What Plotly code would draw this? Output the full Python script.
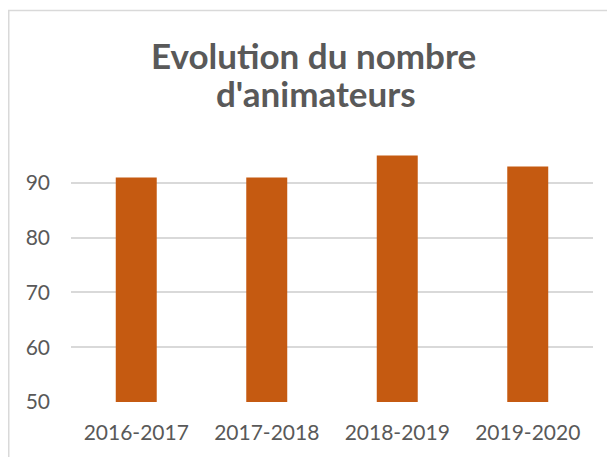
import plotly.graph_objects as go

categories = ["2016-2017", "2017-2018", "2018-2019", "2019-2020"]
values = [91, 91, 95, 93]
y_ticks = [50, 60, 70, 80, 90]
title_lines = ["Evolution du nombre", "d'animateurs"]

W, H = 615, 457
ML, MR, MT, MB = 63, 30, 142, 63
pw = W - ML - MR
ph = H - MT - MB

def px_to_paper_x(px):
    return (px - ML) / pw

def px_to_paper_y(py):
    return (H - MB - py) / ph

text_color = "#595959"

fig = go.Figure()
fig.add_trace(go.Bar(
    x=categories, y=values,
    marker=dict(color="#C55A11", line=dict(width=0)),
    width=0.314,
))

annotations = []
for line, cx, cy in zip(title_lines, [305.5, 307.5], [47.4, 84.7]):
    annotations.append(dict(
        text="<b>" + line + "</b>", showarrow=False,
        xref="paper", yref="paper",
        x=px_to_paper_x(cx), y=px_to_paper_y(cy),
        xanchor="center", yanchor="middle",
        font=dict(family="Lato", size=35, color=text_color),
    ))

fig.update_layout(
    width=W, height=H,
    margin=dict(l=ML, r=MR, t=MT, b=MB, autoexpand=False),
    paper_bgcolor="white", plot_bgcolor="white",
    showlegend=False,
    font=dict(family="Lato", color=text_color),
    annotations=annotations,
    xaxis=dict(
        showline=False, showgrid=False, ticks="",
        tickfont=dict(size=21, color=text_color),
        range=[-0.5, 3.5], automargin=False,
        ticklabelstandoff=16,
    ),
    yaxis=dict(
        range=[50, 96], tickvals=y_ticks,
        showgrid=True, gridcolor="#D9D9D9", gridwidth=1.5,
        zeroline=False, showline=False, ticks="",
        tickfont=dict(size=21, color=text_color),
        ticklabelstandoff=20, automargin=False,
    ),
    shapes=[dict(
        type="rect", xref="paper", yref="paper",
        x0=px_to_paper_x(0.75), x1=px_to_paper_x(700),
        y0=px_to_paper_y(600), y1=px_to_paper_y(2.5),
        line=dict(color="#D9D9D9", width=1.5), fillcolor="rgba(0,0,0,0)",
        layer="below",
    )],
)

fig.write_html("out.html")
